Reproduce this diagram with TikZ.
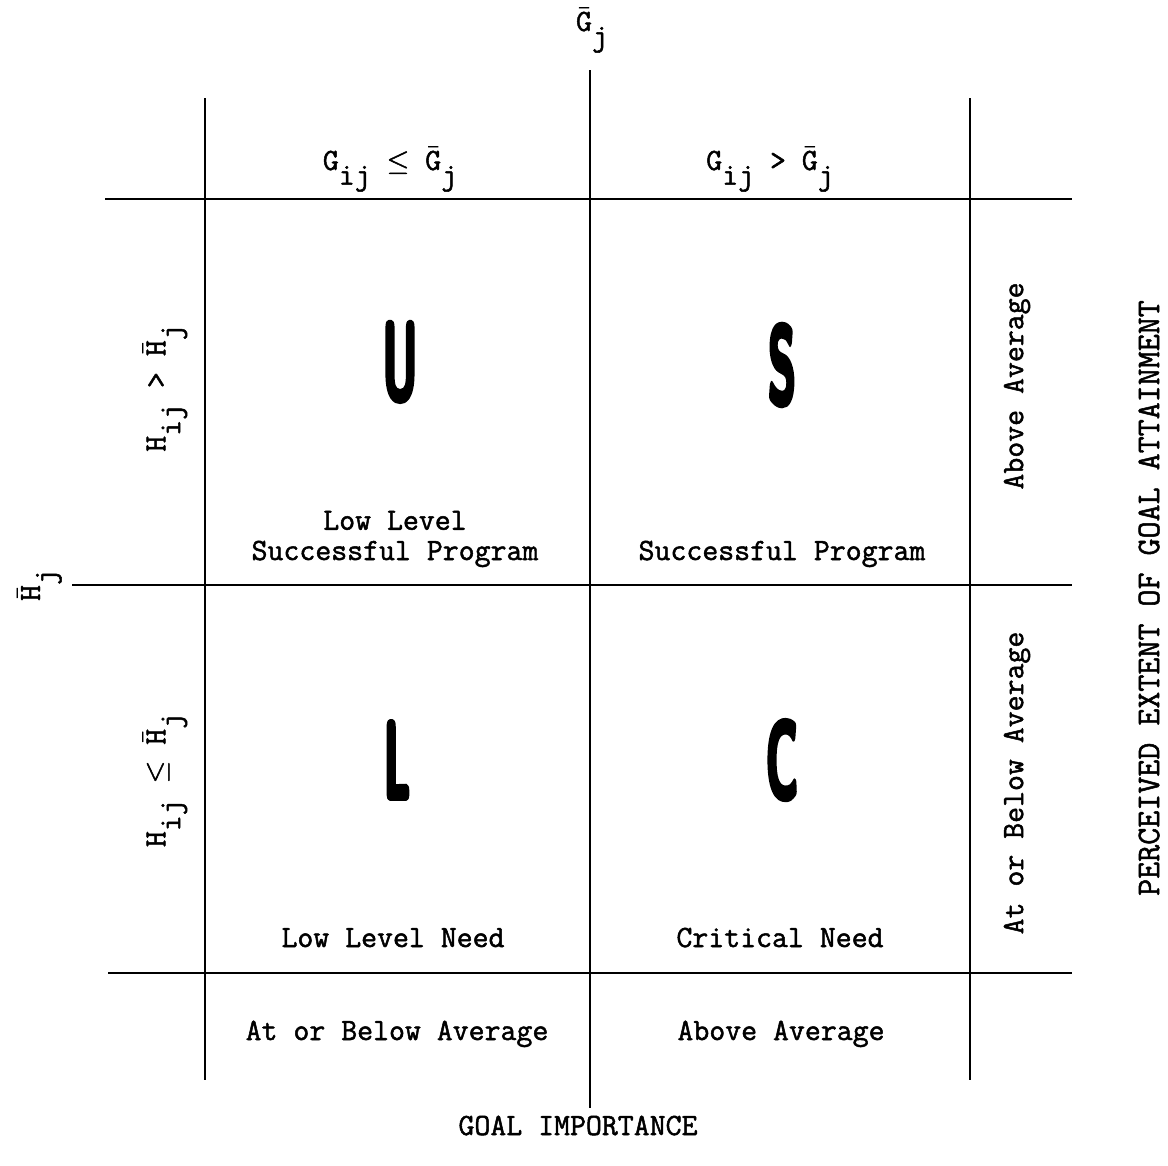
\documentclass[tikz,border=0pt]{standalone}
\usepackage{tikz}
\newcommand{\lowsub}[1]{\raisebox{-1.1ex}{#1}}
\newcommand{\avgbar}[1]{$\bar{\mbox{#1}}$}
% condensed heavy letter: squeeze, then stroke the outline as well as filling it
\newcommand{\narrowmark}[1]{\scalebox{0.42}[1]{\special{pdf:literal direct 2 Tr 4 w 1 j}#1\special{pdf:literal direct 0 Tr}}}
% slightly heavier typewriter text
\newcommand{\inkon}{\special{pdf:literal direct 2 Tr 0.35 w 1 j}}
\newcommand{\inkoff}{\special{pdf:literal direct 0 Tr}}

\begin{document}
\begin{tikzpicture}[x=0.025cm, y=-0.025cm,
    rule/.style={line width=1.6pt},
    lbl/.style={font=\fontsize{22}{21.5}\selectfont\ttfamily, inner sep=0pt, align=center,
      execute at begin node=\inkon, execute at end node=\inkoff},
    vlbl/.style={lbl, rotate=90},
    cellmark/.style={font=\fontsize{78}{80}\selectfont\sffamily\bfseries, inner sep=0pt}
  ]
  \useasboundingbox (0,0) rectangle (1168,1165);

  % grid lines
  \coordinate (v1t) at (205,98);   \coordinate (v1b) at (205,1080);
  \coordinate (v2t) at (590,70);   \coordinate (v2b) at (590,1108);
  \coordinate (v3t) at (970,98);   \coordinate (v3b) at (970,1080);
  \coordinate (h1l) at (105,199);  \coordinate (h1r) at (1072,199);
  \coordinate (h2l) at (72,585);   \coordinate (h2r) at (1072,585);
  \coordinate (h3l) at (108,973);  \coordinate (h3r) at (1072,973);

  \draw[rule] (v1t) -- (v1b);
  \draw[rule] (v2t) -- (v2b);
  \draw[rule] (v3t) -- (v3b);
  \draw[rule] (h1l) -- (h1r);
  \draw[rule] (h2l) -- (h2r);
  \draw[rule] (h3l) -- (h3r);

  % axis marks
  \node[lbl, anchor=base] (gbar) at (592,31) {\avgbar{G}\lowsub{j}};
  \node[vlbl, anchor=base] (hbar) at (40,585) {\avgbar{H}\lowsub{j}};

  % column heads
  \node[lbl, anchor=base] (gle) at (390,170) {G\lowsub{ij} $\le$ \avgbar{G}\lowsub{j}};
  \node[lbl, anchor=base] (ggt) at (770,170) {G\lowsub{ij} > \avgbar{G}\lowsub{j}};

  % row heads
  \node[vlbl] (hgt) at (165,388) {H\lowsub{ij} > \avgbar{H}\lowsub{j}};
  \node[vlbl] (hle) at (165,780) {H\lowsub{ij} $\le$ \avgbar{H}\lowsub{j}};

  % cells
  \node[cellmark] (mu) at (400,362) {\narrowmark{U}};
  \node[cellmark] (ms) at (782,365) {\narrowmark{S}};
  \node[cellmark] (ml) at (397,760) {\narrowmark{L}};
  \node[cellmark] (mc) at (782,760) {\narrowmark{C}};

  \node[lbl, anchor=base] (lsp) at (395,560) {Low Level\\Successful Program};
  \node[lbl, anchor=base] (sp)  at (782,560) {Successful Program};
  \node[lbl, anchor=base] (lln) at (393,947) {Low Level Need};
  \node[lbl, anchor=base] (cn)  at (780,947) {Critical Need};

  % bottom and right scales
  \node[lbl, anchor=base] (gabl) at (397,1040) {At or Below Average};
  \node[lbl, anchor=base] (gab)  at (781,1040) {Above Average};
  \node[vlbl] (hab)  at (1017,386) {Above Average};
  \node[vlbl] (habl) at (1017,783) {At or Below Average};

  % axis titles
  \node[lbl, anchor=base] (xtitle) at (578,1135) {GOAL IMPORTANCE};
  \node[vlbl, font=\fontsize{23.5}{24}\selectfont\ttfamily] (ytitle) at (1149,598) {PERCEIVED EXTENT OF GOAL ATTAINMENT};
\end{tikzpicture}
\end{document}
